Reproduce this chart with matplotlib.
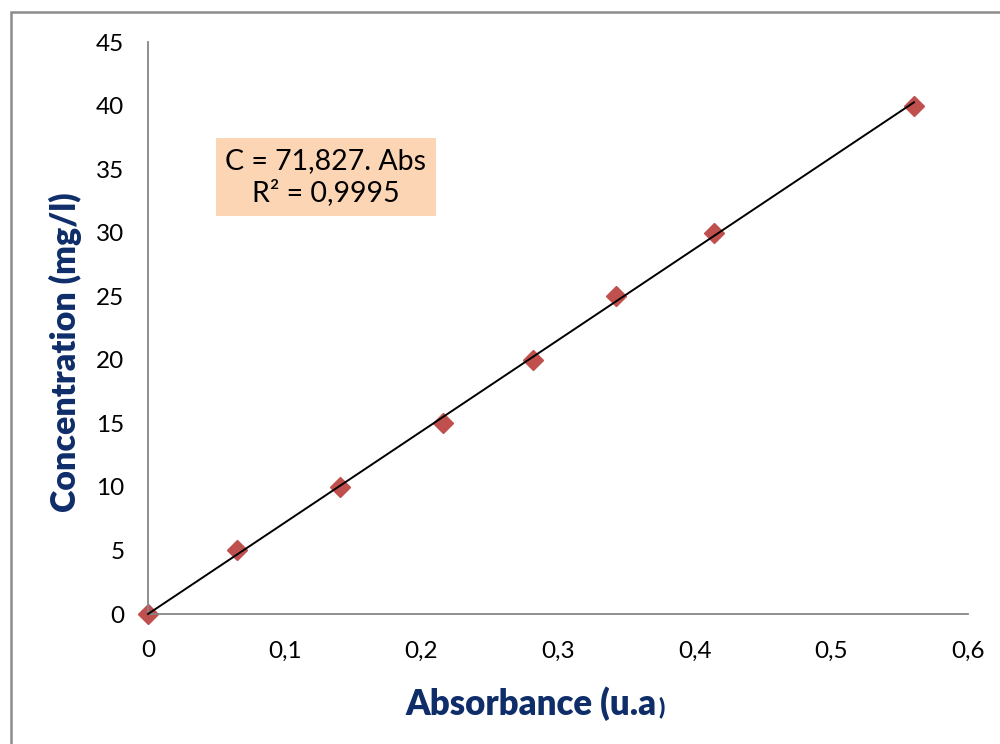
import matplotlib
matplotlib.use("Agg")
import matplotlib.pyplot as plt
from matplotlib.patches import Rectangle
import numpy as np

# calibration data
absorbance = [0, 0.065, 0.1405, 0.216, 0.2815, 0.3425, 0.414, 0.5605]
concentration = [0, 5, 10, 15, 20, 25, 30, 40]
slope = 71.827
x_ticks = [0, 0.1, 0.2, 0.3, 0.4, 0.5, 0.6]
x_tick_labels = ["0", "0,1", "0,2", "0,3", "0,4", "0,5", "0,6"]
y_ticks = [0, 5, 10, 15, 20, 25, 30, 35, 40, 45]

plt.rcParams['font.family'] = ['Lato', 'DejaVu Sans']

fig = plt.figure(figsize=(10, 7.44), dpi=100)
ax = fig.add_axes([0.148, 0.1747, 0.820, 0.7688])

# outer chart border (clipped by the image edge on right/bottom)
fig.patches.append(Rectangle((0.0105, -0.05), 1.2, 1.0335, transform=fig.transFigure,
                             fill=False, edgecolor='#8c8c8c', linewidth=1.8))

# trend line through origin
xs = np.array([0, max(absorbance)])
ax.plot(xs, slope * xs, color='black', linewidth=1.4, zorder=3, clip_on=False)
ax.plot(absorbance, concentration, linestyle='none', marker='D', markersize=10,
        color='#C0504D', zorder=2, clip_on=False)

ax.set_xlim(0, 0.6)
ax.set_ylim(0, 45)
ax.set_xticks(x_ticks)
ax.set_xticklabels(x_tick_labels)
ax.set_yticks(y_ticks)
ax.tick_params(length=0, labelsize=17.5)
ax.tick_params(axis='x', pad=19)
ax.tick_params(axis='y', pad=17)
for side in ['top', 'right']:
    ax.spines[side].set_visible(False)
for side in ['left', 'bottom']:
    ax.spines[side].set_color('#868686')
    ax.spines[side].set_linewidth(1.3)

navy = '#0F2D69'
fig.text(0.065, 1 - 352 / 744, "Concentration (mg/l)", rotation=90, ha='center', va='center',
         fontsize=24.5, fontweight='heavy', color=navy)
fig.text(0.657, 1 - 704 / 744, "Absorbance (u.a", ha='right', va='center',
         fontsize=25, fontweight='heavy', color=navy)
fig.text(0.658, 1 - 707 / 744, ")", ha='left', va='center',
         fontsize=16, fontweight='heavy', color=navy)

ax.text(0.217, 0.764, "C = 71,827. Abs\nR² = 0,9995", transform=ax.transAxes,
        ha='center', va='center', fontsize=20.5, linespacing=1.25,
        bbox=dict(boxstyle='square,pad=0.33', facecolor='#FCD5B5', edgecolor='none'))

fig.savefig("out.png", dpi=100)
